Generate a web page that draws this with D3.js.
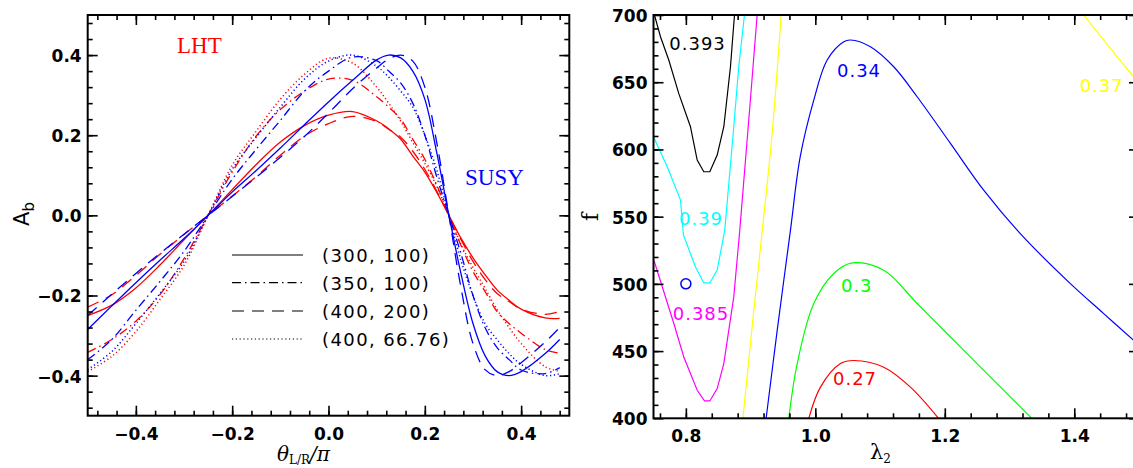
<!DOCTYPE html>
<html>
<head>
<meta charset="utf-8">
<script src="https://cdn.jsdelivr.net/npm/d3@7"></script>
<style>
  body { margin: 0; background: #fff; }
  svg { display: block; }
</style>
</head>
<body>
<svg id="chart" width="1133" height="468"></svg>
<script>
// ---------- left panel: A_b versus theta_{L/R}/pi ----------
const thetaNodes = [-0.5, -0.45, -0.4, -0.35, -0.3, -0.25, -0.2, -0.15, -0.1, -0.05, 0, 0.05, 0.1, 0.125,
                    0.15, 0.175, 0.2, 0.225, 0.25, 0.275, 0.3, 0.325, 0.35, 0.375, 0.4, 0.45, 0.48];

const lhtSolid    = [-0.25, -0.224, -0.181, -0.124, -0.061, 0, 0.064, 0.127, 0.183, 0.224, 0.25, 0.259, 0.236, 0.216,
                     0.19, 0.148, 0.108, 0.057, 0, -0.057, -0.106, -0.148, -0.186, -0.212, -0.234, -0.256, -0.257];
const lhtDashDot  = [-0.342, -0.31, -0.264, -0.198, -0.108, 0, 0.108, 0.198, 0.264, 0.31, 0.34, 0.337, 0.296, 0.27,
                     0.24, 0.19, 0.14, 0.075, 0, -0.075, -0.14, -0.19, -0.24, -0.27, -0.294, -0.335, -0.344];
const lhtDashed   = [-0.229, -0.198, -0.15, -0.097, -0.048, 0, 0.048, 0.097, 0.15, 0.198, 0.229, 0.247, 0.234, 0.215,
                     0.195, 0.16, 0.115, 0.06, 0, -0.06, -0.115, -0.16, -0.195, -0.215, -0.234, -0.247, -0.24];
const lhtDotted   = [-0.39, -0.352, -0.29, -0.21, -0.125, 0, 0.125, 0.21, 0.29, 0.352, 0.392, 0.38, 0.32, 0.28,
                     0.235, 0.182, 0.13, 0.072, 0, -0.072, -0.13, -0.182, -0.235, -0.28, -0.32, -0.378, -0.389];

const susySolid   = [-0.285, -0.226, -0.168, -0.112, -0.058, 0, 0.058, 0.112, 0.168, 0.226, 0.283, 0.337, 0.388, 0.40,
                     0.393, 0.36, 0.29, 0.155, 0, -0.145, -0.27, -0.35, -0.39, -0.40, -0.39, -0.345, -0.31];
const susyDashDot = [-0.36, -0.31, -0.237, -0.165, -0.09, 0, 0.09, 0.165, 0.237, 0.31, 0.36, 0.395, 0.386, 0.36,
                     0.33, 0.28, 0.2, 0.095, 0, -0.095, -0.2, -0.28, -0.33, -0.36, -0.386, -0.395, -0.38];
const susyDashed  = [-0.25, -0.197, -0.145, -0.095, -0.047, 0, 0.047, 0.095, 0.145, 0.197, 0.255, 0.316, 0.368, 0.39,
                     0.40, 0.385, 0.32, 0.18, 0, -0.18, -0.32, -0.385, -0.40, -0.39, -0.368, -0.316, -0.28];
const susyDotted  = [-0.385, -0.34, -0.27, -0.195, -0.115, 0, 0.115, 0.195, 0.27, 0.34, 0.385, 0.40, 0.372, 0.345,
                     0.31, 0.27, 0.2, 0.112, 0, -0.112, -0.2, -0.27, -0.31, -0.345, -0.372, -0.40, -0.395];

const legendLabels = ["(300, 100)", "(350, 100)", "(400, 200)", "(400, 66.76)"];
const thetaTicks = [-0.4, -0.2, 0.0, 0.2, 0.4];
const asymTicks  = [-0.4, -0.2, 0.0, 0.2, 0.4];

// ---------- right panel: contours of f versus lambda_2 ----------
const contour393 = [[0.7515, 700], [0.7608, 683.8], [0.7736, 666.5], [0.789, 641.7], [0.8071, 616.9], [0.8175, 592.1],
                    [0.8277, 583.4], [0.837, 583.4], [0.8484, 595.8], [0.8586, 616.9], [0.8689, 661.5], [0.8751, 700]];
const contour390 = [[0.75, 609.4], [0.7712, 587.1], [0.7917, 562.3], [0.7963, 536.2], [0.8149, 512.6], [0.8277, 500.7],
                    [0.837, 500.7], [0.8484, 510.2], [0.8601, 540], [0.874, 616.9], [0.8817, 661.5], [0.8905, 700]];
const contour385 = [[0.75, 517.5], [0.7515, 516.3], [0.7814, 470.5], [0.7968, 445.6], [0.8175, 420.8], [0.8288, 412.9],
                    [0.837, 412.9], [0.8484, 422.1], [0.8586, 440.7], [0.874, 490.3], [0.8833, 540], [0.8997, 637], [0.9101, 700]];
const contour370a = [[0.8881, 400], [0.9045, 478], [0.9174, 537], [0.9333, 612], [0.9472, 700]];
const contour370b = [[1.4146, 700], [1.455, 675.5], [1.4918, 654], [1.5, 649]];
const contour340 = [[0.924, 400], [0.941, 465], [0.9616, 540], [0.9766, 594.5], [0.9976, 636.7], [1.0183, 666.5],
                    [1.0439, 680.1], [1.0543, 681.4], [1.0851, 676.4], [1.1211, 661.5], [1.1573, 639.2], [1.2087, 604.5],
                    [1.2601, 569.7], [1.3188, 536.2], [1.394, 500.2], [1.4455, 477.9], [1.4918, 458], [1.5, 454.5]];
const contour300 = [[0.959, 400], [0.972, 440.7], [0.9976, 485.4], [1.0285, 507.7], [1.0568, 515.6], [1.1057, 510.2],
                    [1.1573, 485.4], [1.2087, 460.5], [1.2601, 435.7], [1.3348, 399.8]];
const contour270 = [[0.9899, 400], [1.0079, 423.2], [1.0388, 440.7], [1.0595, 443], [1.1057, 438], [1.1469, 423.2],
                    [1.1906, 399.8]];
const contourLabels = ["0.393", "0.39", "0.385", "0.37", "0.34", "0.3", "0.27"];
const contourLabelAt = [[0.818, 674], [0.8234, 543.7], [0.8234, 473], [1.4424, 642.9], [1.0675, 653.8], [1.064, 494], [1.0613, 424.6]];
const markerPoints = [[0.8, 500]];
const lambdaTicks = [0.8, 1.0, 1.2, 1.4];
const fTicks = [400, 450, 500, 550, 600, 650, 700];

// ---------- drawing ----------
const svg = d3.select("#chart");
const RED = "#ff0000", BLUE = "#0000ff";
const dashStyles = { solid: null, dashdot: "9,4,1.5,4", dashed: "12,8", dotted: "1.2,2.6" };

const xL = d3.scaleLinear().domain([-0.5, 0.5]).range([87.7, 569.3]);
const yL = d3.scaleLinear().domain([-0.5, 0.5]).range([415.7, 15]);
const xR = d3.scaleLinear().domain([0.75, 1.5]).range([653.5, 1139]);
const yR = d3.scaleLinear().domain([400, 700]).range([418.3, 15]);

function tidy(sel) {
  sel.select(".domain").remove();
  sel.selectAll("line").attr("stroke", "#000").attr("stroke-width", 1.6);
  sel.selectAll("text")
    .attr("font-family", "'DejaVu Sans', sans-serif")
    .attr("font-weight", "bold")
    .attr("font-size", 17)
    .attr("fill", "#000");
}

function frame(g, x, y, xMajor, xMinor, yMajor, yMinor, xFmt, yFmt) {
  const [x0, x1] = x.range();
  const [yb, yt] = y.range();
  g.append("g").attr("transform", `translate(0,${yb})`)
    .call(d3.axisBottom(x).tickValues(xMajor).tickSize(-10).tickPadding(12).tickFormat(xFmt)).call(tidy);
  g.append("g").attr("transform", `translate(0,${yb})`)
    .call(d3.axisBottom(x).tickValues(xMinor).tickSize(-5).tickFormat("")).call(tidy);
  g.append("g").attr("transform", `translate(0,${yt})`)
    .call(d3.axisTop(x).tickValues(xMajor).tickSize(-10).tickFormat("")).call(tidy);
  g.append("g").attr("transform", `translate(0,${yt})`)
    .call(d3.axisTop(x).tickValues(xMinor).tickSize(-5).tickFormat("")).call(tidy);
  const la = g.append("g").attr("transform", `translate(${x0},0)`)
    .call(d3.axisLeft(y).tickValues(yMajor).tickSize(-10).tickPadding(6).tickFormat(yFmt)).call(tidy);
  la.selectAll("text").attr("dy", "0.38em");
  g.append("g").attr("transform", `translate(${x0},0)`)
    .call(d3.axisLeft(y).tickValues(yMinor).tickSize(-5).tickFormat("")).call(tidy);
  g.append("g").attr("transform", `translate(${x1},0)`)
    .call(d3.axisRight(y).tickValues(yMajor).tickSize(-10).tickFormat("")).call(tidy);
  g.append("g").attr("transform", `translate(${x1},0)`)
    .call(d3.axisRight(y).tickValues(yMinor).tickSize(-5).tickFormat("")).call(tidy);
  g.append("rect").attr("x", x0).attr("y", yt).attr("width", x1 - x0).attr("height", yb - yt)
    .attr("fill", "none").attr("stroke", "#000").attr("stroke-width", 2);
}

const defs = svg.append("defs");
defs.append("clipPath").attr("id", "clipL").append("rect")
  .attr("x", xL.range()[0]).attr("y", yL.range()[1])
  .attr("width", xL.range()[1] - xL.range()[0]).attr("height", yL.range()[0] - yL.range()[1]);
defs.append("clipPath").attr("id", "clipR").append("rect")
  .attr("x", xR.range()[0]).attr("y", yR.range()[1])
  .attr("width", xR.range()[1] - xR.range()[0]).attr("height", yR.range()[0] - yR.range()[1]);

// left panel curves
const series = [
  { values: lhtSolid, color: RED, style: "solid" },
  { values: lhtDashDot, color: RED, style: "dashdot" },
  { values: lhtDashed, color: RED, style: "dashed" },
  { values: lhtDotted, color: RED, style: "dotted" },
  { values: susySolid, color: BLUE, style: "solid" },
  { values: susyDashDot, color: BLUE, style: "dashdot" },
  { values: susyDashed, color: BLUE, style: "dashed" },
  { values: susyDotted, color: BLUE, style: "dotted" }
];
const lineL = d3.line()
  .x(d => xL(d[0])).y(d => yL(d[1]))
  .curve(d3.curveCatmullRom.alpha(0.5));

const gL = svg.append("g");
gL.append("g").attr("clip-path", "url(#clipL)")
  .selectAll("path").data(series).join("path")
  .attr("d", s => lineL(thetaNodes.map((t, i) => [t, s.values[i]])))
  .attr("fill", "none")
  .attr("stroke", s => s.color)
  .attr("stroke-width", s => s.style === "dotted" ? 1.5 : 1.3)
  .attr("stroke-dasharray", s => dashStyles[s.style]);

const fmt1 = d3.format(".1f");
frame(gL, xL, yL, thetaTicks, d3.range(-0.48, 0.49, 0.04), asymTicks, d3.range(-0.48, 0.49, 0.04), fmt1, fmt1);

// legend
const legendStyles = ["solid", "dashdot", "dashed", "dotted"];
const legendY = [255, 282.7, 311, 339];
const leg = gL.append("g");
legendLabels.forEach((lab, i) => {
  leg.append("line").attr("x1", 232).attr("x2", 303).attr("y1", legendY[i]).attr("y2", legendY[i])
    .attr("stroke", "#000").attr("stroke-width", 1.2)
    .attr("stroke-dasharray", dashStyles[legendStyles[i]]);
  leg.append("text").attr("x", 322).attr("y", legendY[i] + 7)
    .attr("font-family", "'DejaVu Sans', sans-serif").attr("font-size", 18)
    .attr("letter-spacing", 1.4).attr("fill", "#000").text(lab);
});

gL.append("text").attr("x", 177).attr("y", 53).attr("fill", RED)
  .attr("font-family", "'Liberation Serif', serif").attr("font-size", 23).text("LHT");
gL.append("text").attr("x", 465).attr("y", 185).attr("fill", BLUE)
  .attr("font-family", "'Liberation Serif', serif").attr("font-size", 23).text("SUSY");

// axis titles, left panel
const ytL = gL.append("text").attr("transform", "translate(29,214) rotate(-90)")
  .attr("text-anchor", "middle").attr("font-family", "'DejaVu Sans', sans-serif")
  .attr("font-size", 21).attr("fill", "#000");
ytL.append("tspan").text("A");
ytL.append("tspan").attr("font-size", 15).attr("dy", 5).text("b");

const xtL = gL.append("text").attr("x", 277).attr("y", 461)
  .attr("font-family", "'DejaVu Serif', serif").attr("font-size", 20).attr("fill", "#000");
xtL.append("tspan").attr("font-style", "italic").text("θ");
xtL.append("tspan").attr("font-size", 12).attr("dy", 3).text("L/R");
xtL.append("tspan").attr("dy", -3).attr("font-style", "italic").text("/π");

// right panel contours
const contours = [
  { pts: contour393, color: "#000000" },
  { pts: contour390, color: "#00ffff" },
  { pts: contour385, color: "#ff00ff" },
  { pts: contour370a, color: "#ffff00" },
  { pts: contour370b, color: "#ffff00" },
  { pts: contour340, color: BLUE },
  { pts: contour300, color: "#00ff00" },
  { pts: contour270, color: RED }
];
const lineR = d3.line().x(d => xR(d[0])).y(d => yR(d[1]));
const lineRs = d3.line().x(d => xR(d[0])).y(d => yR(d[1])).curve(d3.curveCatmullRom.alpha(0.5));
const smoothSet = new Set([contour340, contour300, contour270, contour370a]);

const gR = svg.append("g");
gR.append("g").attr("clip-path", "url(#clipR)")
  .selectAll("path").data(contours).join("path")
  .attr("d", c => (smoothSet.has(c.pts) ? lineRs : lineR)(c.pts))
  .attr("fill", "none").attr("stroke", c => c.color).attr("stroke-width", 1.2);

const labelColors = ["#000000", "#00ffff", "#ff00ff", "#ffff00", BLUE, "#00ff00", RED];
gR.selectAll("text.clab").data(contourLabels).join("text").attr("class", "clab")
  .attr("x", (d, i) => xR(contourLabelAt[i][0]))
  .attr("y", (d, i) => yR(contourLabelAt[i][1]))
  .attr("text-anchor", "middle")
  .attr("font-family", "'DejaVu Sans', sans-serif").attr("font-size", 18).attr("letter-spacing", 1)
  .attr("fill", (d, i) => labelColors[i]).text(d => d);

gR.selectAll("circle.mk").data(markerPoints).join("circle").attr("class", "mk")
  .attr("cx", d => xR(d[0])).attr("cy", d => yR(d[1])).attr("r", 5)
  .attr("fill", "none").attr("stroke", BLUE).attr("stroke-width", 1.5);

frame(gR, xR, yR, lambdaTicks, d3.range(0.76, 1.49, 0.04), fTicks, d3.range(410, 700, 10), fmt1, d3.format("d"));

gR.append("text").attr("transform", "translate(598,217) rotate(-90)")
  .attr("text-anchor", "middle").attr("font-family", "'DejaVu Serif', serif")
  .attr("font-size", 22).attr("fill", "#000").text("f");

const xtR = gR.append("text").attr("x", 870).attr("y", 459)
  .attr("font-family", "'DejaVu Serif', serif").attr("font-size", 21).attr("fill", "#000");
xtR.append("tspan").text("λ");
xtR.append("tspan").attr("font-size", 12).attr("dy", 4).text("2");
</script>
</body>
</html>
